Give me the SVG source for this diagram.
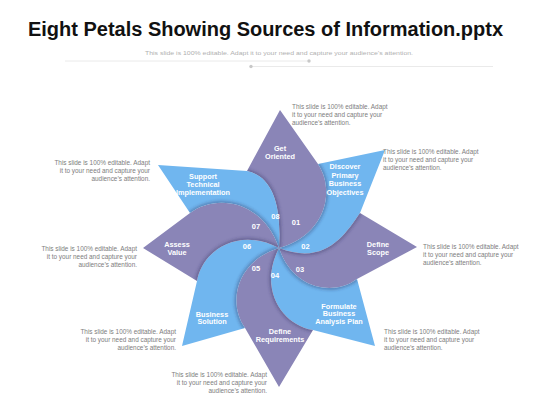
<svg xmlns="http://www.w3.org/2000/svg" xmlns:xlink="http://www.w3.org/1999/xlink" width="560" height="420" viewBox="0 0 560 420">
<style>
.purple{fill:#8a85b7}
.blue{fill:#70b6ef}
.lbl{font-family:"Liberation Sans",Arial,sans-serif;font-weight:bold;font-size:7.3px;fill:#ffffff;text-anchor:middle}
.num{font-family:"Liberation Sans",Arial,sans-serif;font-weight:bold;font-size:7.5px;fill:#ffffff;text-anchor:middle}
.note{font-family:"Liberation Sans",Arial,sans-serif;font-size:6.4px;fill:#7d7d7d}
.r{text-anchor:end}
.sh{fill:none;stroke:#2c2a5a;stroke-opacity:0.35;stroke-width:4;filter:url(#blur)}
</style>
<defs>
<filter id="blur" x="-20%" y="-20%" width="140%" height="140%"><feGaussianBlur stdDeviation="1.4"/></filter>
<clipPath id="c01"><use xlink:href="#petal01"/></clipPath>
<clipPath id="c02"><use xlink:href="#petal02"/></clipPath>
<clipPath id="c03"><use xlink:href="#petal03"/></clipPath>
<clipPath id="c04"><use xlink:href="#petal04"/></clipPath>
<clipPath id="c05"><use xlink:href="#petal05"/></clipPath>
<clipPath id="c06"><use xlink:href="#petal06"/></clipPath>
<clipPath id="c07"><use xlink:href="#petal07"/></clipPath>
<clipPath id="c08"><use xlink:href="#petal08"/></clipPath>
</defs>
<rect width="560" height="420" fill="#ffffff"/>
<g id="header">
<text x="265.5" y="36" font-family="'Liberation Sans',Arial,sans-serif" font-weight="bold" font-size="20" fill="#111" text-anchor="middle" textLength="475" lengthAdjust="spacingAndGlyphs">Eight Petals Showing Sources of Information.pptx</text>
<text x="279" y="55" font-family="'Liberation Sans',Arial,sans-serif" font-size="5.8" fill="#b0b0b0" text-anchor="middle" textLength="268" lengthAdjust="spacingAndGlyphs">This slide is 100% editable. Adapt it to your need and capture your audience’s attention.</text>
<line x1="65" y1="61" x2="309" y2="61" stroke="#e4e4e4" stroke-width="0.8"/>
<circle cx="309" cy="61" r="1.7" fill="#c8c8c8"/>
<line x1="251" y1="66.5" x2="493" y2="66.5" stroke="#e4e4e4" stroke-width="0.8"/>
<circle cx="251" cy="66.5" r="1.7" fill="#c8c8c8"/>
</g>
<g id="node01">
<path id="petal01" class="purple" d="M247,171 L280,110 L318,164 C335.9,190.9 325.5,235.4 279,248 C282,200 270,176 247,171 Z"/>
</g>
<g id="node02">
<path id="petal02" class="blue" d="M318,164 L385,150 L360,213 C345,235 325,266 279,248 C325.5,235.4 335.9,190.9 318,164 Z"/>
</g>
<g id="node03">
<path id="petal03" class="purple" d="M360,213 L417,247 L357,279 C333.5,296.6 292.7,289.4 279,248 C325,266 345,235 360,213 Z"/>
</g>
<g id="node04">
<path id="petal04" class="blue" d="M357,279 L375,346 L313,330 C282.4,325.1 257.7,289 279,248 C292.7,289.4 333.5,296.6 357,279 Z"/>
</g>
<g id="node05">
<path id="petal05" class="purple" d="M313,330 L279,387 L245,328 C227.4,303.3 235.8,261.2 279,248 C257.7,289 282.4,325.1 313,330 Z"/>
</g>
<g id="node06">
<path id="petal06" class="blue" d="M245,328 L182,346 L197,281 C202.1,250.6 238.4,226.3 279,248 C235.8,261.2 227.4,303.3 245,328 Z"/>
</g>
<g id="node07">
<path id="petal07" class="purple" d="M197,281 L143,248 L190,213 C216.7,192.9 263.2,200.9 279,248 C238.4,226.3 202.1,250.6 197,281 Z"/>
</g>
<g id="node08">
<path id="petal08" class="blue" d="M190,213 L158,165 L247,171 C270,176 282,200 279,248 C263.2,200.9 216.7,192.9 190,213 Z"/>
</g>
<g id="shadows">
<path class="sh" clip-path="url(#c02)" d="M318,164 C335.9,190.9 325.5,235.4 279,248"/>
<path class="sh" clip-path="url(#c03)" d="M360,213 C345,235 325,266 279,248"/>
<path class="sh" clip-path="url(#c04)" d="M357,279 C333.5,296.6 292.7,289.4 279,248"/>
<path class="sh" clip-path="url(#c05)" d="M313,330 C282.4,325.1 257.7,289 279,248"/>
<path class="sh" clip-path="url(#c06)" d="M245,328 C227.4,303.3 235.8,261.2 279,248"/>
<path class="sh" clip-path="url(#c07)" d="M197,281 C202.1,250.6 238.4,226.3 279,248"/>
<path class="sh" clip-path="url(#c08)" d="M190,213 C216.7,192.9 263.2,200.9 279,248"/>
<path class="sh" clip-path="url(#c01)" d="M247,171 C270,176 282,200 279,248"/>
</g>
<g id="labels">
<text class="lbl" x="280"><tspan x="280" y="150.5">Get</tspan><tspan x="280" y="159">Oriented</tspan></text>
<text class="lbl" x="345"><tspan x="345" y="169">Discover</tspan><tspan x="345" y="177.7">Primary</tspan><tspan x="345" y="186.4">Business</tspan><tspan x="345" y="195.1">Objectives</tspan></text>
<text class="lbl" x="378"><tspan x="378" y="246.5">Define</tspan><tspan x="378" y="255">Scope</tspan></text>
<text class="lbl" x="339"><tspan x="339" y="308.5">Formulate</tspan><tspan x="339" y="316.3">Business</tspan><tspan x="339" y="324.1">Analysis Plan</tspan></text>
<text class="lbl" x="280"><tspan x="280" y="334.2">Define</tspan><tspan x="280" y="342">Requirements</tspan></text>
<text class="lbl" x="212"><tspan x="212" y="316.5">Business</tspan><tspan x="212" y="324.3">Solution</tspan></text>
<text class="lbl" x="177"><tspan x="177" y="247">Assess</tspan><tspan x="177" y="255.4">Value</tspan></text>
<text class="lbl" x="203"><tspan x="203" y="178.5">Support</tspan><tspan x="203" y="186.6">Technical</tspan><tspan x="203" y="194.7">Implementation</tspan></text>
<text class="num" x="296" y="224.7">01</text>
<text class="num" x="305.5" y="248.5">02</text>
<text class="num" x="300" y="271.7">03</text>
<text class="num" x="275" y="277.7">04</text>
<text class="num" x="256" y="270.5">05</text>
<text class="num" x="247" y="248.5">06</text>
<text class="num" x="256" y="228.5">07</text>
<text class="num" x="275.5" y="218.7">08</text>
</g>
<g id="notes">
<text class="note"><tspan x="292" y="109">This slide is 100% editable. Adapt</tspan><tspan x="292" y="117">it to your need and capture your</tspan><tspan x="292" y="125">audience’s attention.</tspan></text>
<text class="note"><tspan x="383" y="154">This slide is 100% editable. Adapt</tspan><tspan x="383" y="162">it to your need and capture your</tspan><tspan x="383" y="170">audience’s attention.</tspan></text>
<text class="note"><tspan x="423" y="249">This slide is 100% editable. Adapt</tspan><tspan x="423" y="257">it to your need and capture your</tspan><tspan x="423" y="265">audience’s attention.</tspan></text>
<text class="note"><tspan x="384" y="334">This slide is 100% editable. Adapt</tspan><tspan x="384" y="342">it to your need and capture your</tspan><tspan x="384" y="350">audience’s attention.</tspan></text>
<text class="note r"><tspan x="267" y="377">This slide is 100% editable. Adapt</tspan><tspan x="267" y="385">it to your need and capture your</tspan><tspan x="267" y="393">audience’s attention.</tspan></text>
<text class="note r"><tspan x="176" y="334">This slide is 100% editable. Adapt</tspan><tspan x="176" y="342">it to your need and capture your</tspan><tspan x="176" y="350">audience’s attention.</tspan></text>
<text class="note r"><tspan x="137" y="251">This slide is 100% editable. Adapt</tspan><tspan x="137" y="259">it to your need and capture your</tspan><tspan x="137" y="267">audience’s attention.</tspan></text>
<text class="note r"><tspan x="150" y="165">This slide is 100% editable. Adapt</tspan><tspan x="150" y="173">it to your need and capture your</tspan><tspan x="150" y="181">audience’s attention.</tspan></text>
</g>
</svg>
